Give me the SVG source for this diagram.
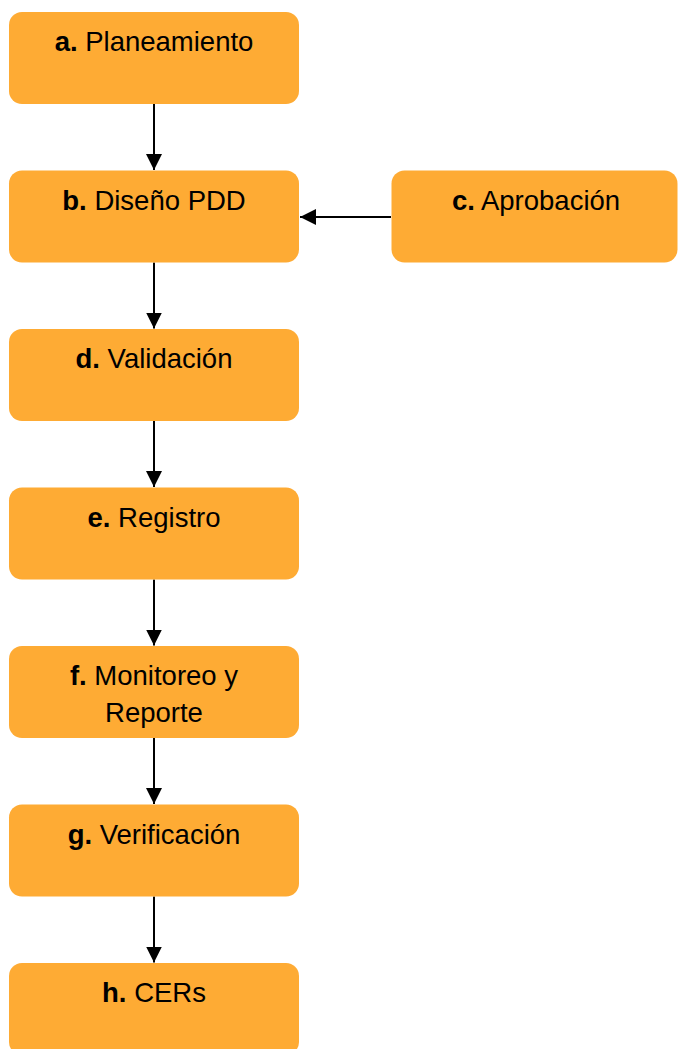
<svg xmlns="http://www.w3.org/2000/svg" width="678" height="1049" viewBox="0 0 678 1049">
<style>
.box{fill:#FEAB34;}
.t{font-family:"Liberation Sans",Arial,sans-serif;font-size:27.5px;fill:#000;text-anchor:middle;}
.b{font-weight:bold;}
.c{stroke:#000;stroke-width:2;fill:none;}
</style>
<defs>
<marker id="ah" viewBox="0 0 16 16" refX="16" refY="8" markerWidth="16" markerHeight="16" markerUnits="userSpaceOnUse" orient="auto">
<path d="M0,0 L16,8 L0,16 Z" fill="#000"/>
</marker>
</defs>
<rect width="678" height="1049" fill="#fff"/>
<g id="connectors">
<line class="c" x1="154" y1="104" x2="154" y2="170" marker-end="url(#ah)"/>
<line class="c" x1="391" y1="217" x2="300" y2="217" marker-end="url(#ah)"/>
<line class="c" x1="154" y1="262.5" x2="154" y2="328.5" marker-end="url(#ah)"/>
<line class="c" x1="154" y1="421" x2="154" y2="487" marker-end="url(#ah)"/>
<line class="c" x1="154" y1="579.5" x2="154" y2="645.5" marker-end="url(#ah)"/>
<line class="c" x1="154" y1="738" x2="154" y2="804" marker-end="url(#ah)"/>
<line class="c" x1="154" y1="896.5" x2="154" y2="962.5" marker-end="url(#ah)"/>
</g>
<g id="node-a">
<rect class="box" x="9" y="12" width="290" height="92" rx="13"/>
<text class="t" x="154" y="51"><tspan class="b">a.</tspan> Planeamiento</text>
</g>
<g id="node-b">
<rect class="box" x="9" y="170.5" width="290" height="92" rx="13"/>
<text class="t" x="154" y="209.5"><tspan class="b">b.</tspan> Diseño PDD</text>
</g>
<g id="node-c">
<rect class="box" x="391.5" y="170.5" width="286" height="92" rx="13"/>
<text class="t" x="536" y="209.5"><tspan class="b">c.</tspan> Aprobación</text>
</g>
<g id="node-d">
<rect class="box" x="9" y="329" width="290" height="92" rx="13"/>
<text class="t" x="154" y="368"><tspan class="b">d.</tspan> Validación</text>
</g>
<g id="node-e">
<rect class="box" x="9" y="487.5" width="290" height="92" rx="13"/>
<text class="t" x="154" y="526.5"><tspan class="b">e.</tspan> Registro</text>
</g>
<g id="node-f">
<rect class="box" x="9" y="646" width="290" height="92" rx="13"/>
<text class="t" x="154" y="685"><tspan class="b">f.</tspan> Monitoreo y</text>
<text class="t" x="154" y="721.5">Reporte</text>
</g>
<g id="node-g">
<rect class="box" x="9" y="804.5" width="290" height="92" rx="13"/>
<text class="t" x="154" y="843.5"><tspan class="b">g.</tspan> Verificación</text>
</g>
<g id="node-h">
<rect class="box" x="9" y="963" width="290" height="92" rx="13"/>
<text class="t" x="154" y="1002"><tspan class="b">h.</tspan> CERs</text>
</g>
</svg>
